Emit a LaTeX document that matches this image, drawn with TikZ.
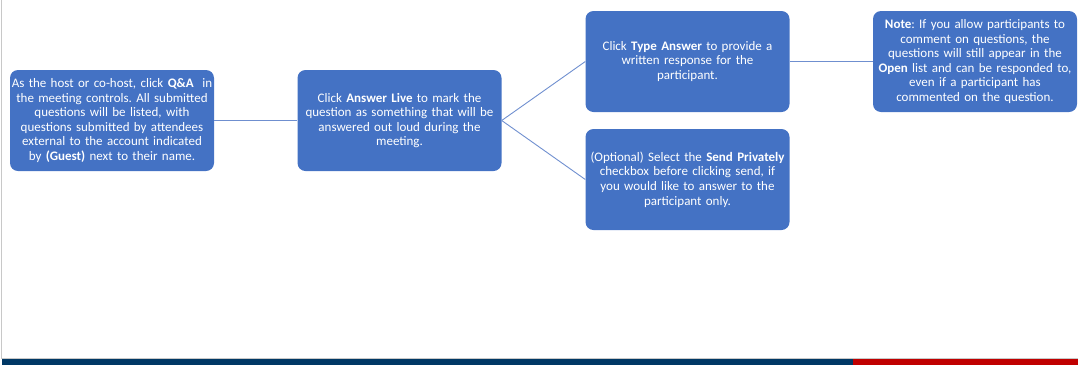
\documentclass[tikz,border=0pt]{standalone}
\usepackage{fontspec}
\setmainfont{Carlito}
\usepackage{tikz}
\usetikzlibrary{positioning}
\definecolor{BoxBlue}{HTML}{4472C4}
\definecolor{LineBlue}{HTML}{6F8FCF}
\definecolor{BarBlue}{HTML}{003865}
\definecolor{BarRed}{HTML}{C00000}
\definecolor{EdgeGray}{HTML}{C8C8C8}
\tikzset{
  stepbox/.style={fill=BoxBlue, rounded corners=8pt, minimum width=204pt, minimum height=101pt,
    text width=202pt, align=center, text=white, inner sep=1pt,
    font=\fontsize{13}{14.6}\selectfont\frenchspacing},
  link/.style={LineBlue, line width=0.9pt}
}

\begin{document}
\begin{tikzpicture}[x=1pt, y=-1pt]
  \useasboundingbox (0,0) rectangle (1078,365);
  % frame and footer bar
  \draw[EdgeGray, line width=1pt] (1,0) -- (1,358);
  \draw[EdgeGray, line width=0.8pt] (1,358) -- (1078,358);
  \fill[BarBlue] (2,359) rectangle (853,365);
  \fill[BarRed] (853,359) rectangle (1078,365);

  \node[stepbox] (host) at (112,120.5) {As the host or co-host, click \textbf{Q\&A}\ \ in\\the meeting controls. All submitted\\questions will be listed, with\\questions submitted by attendees\\external to the account indicated\\by \textbf{(Guest)} next to their name.};
  \node[stepbox] (live) at (399.5,120.5) {Click \textbf{Answer Live} to mark the\\question as something that will be\\answered out loud during the\\meeting.};
  \node[stepbox] (type) at (687.5,61.5) {Click \textbf{Type Answer} to provide a\\written response for the\\participant.};
  \node[stepbox] (private) at (687.5,179.5) {(Optional) Select the \textbf{Send Privately}\\checkbox before clicking send, if\\you would like to answer to the\\participant only.};
  \node[stepbox] (note) at (975,61.5) {\textbf{Note}: If you allow participants to\\comment on questions, the\\questions will still appear in the\\\textbf{Open} list and can be responded to,\\even if a participant has\\commented on the question.};

  \draw[link] (host) -- (live);
  \draw[link] (live.east) -- (type.west);
  \draw[link] (live.east) -- (private.west);
  \draw[link] (type) -- (note);
\end{tikzpicture}
\end{document}
